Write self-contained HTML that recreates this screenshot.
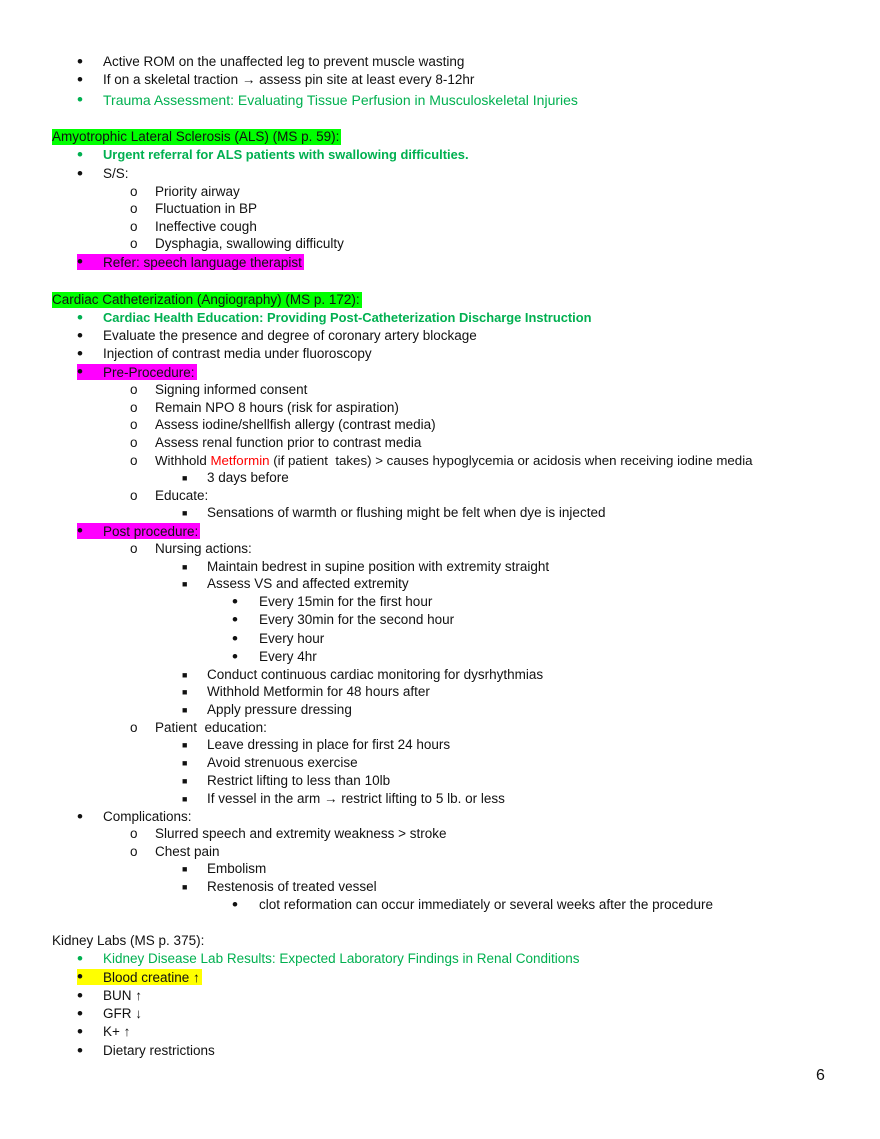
<!DOCTYPE html>
<html><head><meta charset="utf-8"><style>
body{margin:0;background:#fff;}
#p{position:relative;width:880px;height:1139px;font-family:"Liberation Sans","DejaVu Sans",sans-serif;font-size:13.5px;color:#111;}
.l{position:absolute;white-space:nowrap;line-height:16px;height:16px;}
.d{font-size:17px;}
.g{color:#00b050}.gb{color:#00b050;font-weight:bold;font-size:12.9px}
.hg{background:#00ff00}.hm{background:#ff00ff}.hy{background:#ffff00}
.r{color:#ff0000}
.s{font-size:9px}
.hl{position:absolute;white-space:nowrap;line-height:16px;height:16px;padding-right:2px}
.hl .d{display:inline-block;width:26px}
</style></head><body><div id="p">
<div class="l d" style="top:54px;left:77px">•</div><div class="l" style="top:54px;left:103px">Active ROM on the unaffected leg to prevent muscle wasting</div>
<div class="l d" style="top:72px;left:77px">•</div><div class="l" style="top:72px;left:103px">If on a skeletal traction → assess pin site at least every 8-12hr</div>
<div class="l d g" style="top:92px;left:77px">•</div><div class="l g" style="top:92px;left:103px;font-size:14px">Trauma Assessment: Evaluating Tissue Perfusion in Musculoskeletal Injuries</div>

<div class="l hg" style="top:129px;left:52px;padding-right:2px">Amyotrophic Lateral Sclerosis (ALS) (MS p. 59):</div>
<div class="l d g" style="top:147px;left:77px">•</div><div class="l gb" style="top:147px;left:103px">Urgent referral for ALS patients with swallowing difficulties.</div>
<div class="l d" style="top:166px;left:77px">•</div><div class="l" style="top:166px;left:103px">S/S:</div>
<div class="l" style="top:184px;left:130px">o</div><div class="l" style="top:184px;left:155px">Priority airway</div>
<div class="l" style="top:201px;left:130px">o</div><div class="l" style="top:201px;left:155px">Fluctuation in BP</div>
<div class="l" style="top:219px;left:130px">o</div><div class="l" style="top:219px;left:155px">Ineffective cough</div>
<div class="l" style="top:236px;left:130px">o</div><div class="l" style="top:236px;left:155px">Dysphagia, swallowing difficulty</div>
<div class="hl hm" style="top:254px;left:77px"><span class="d">•</span>Refer: speech language therapist</div>

<div class="l hg" style="top:292px;left:52px;padding-right:2px">Cardiac Catheterization (Angiography) (MS p. 172):</div>
<div class="l d g" style="top:310px;left:77px">•</div><div class="l gb" style="top:310px;left:103px">Cardiac Health Education: Providing Post-Catheterization Discharge Instruction</div>
<div class="l d" style="top:328px;left:77px">•</div><div class="l" style="top:328px;left:103px">Evaluate the presence and degree of coronary artery blockage</div>
<div class="l d" style="top:346px;left:77px">•</div><div class="l" style="top:346px;left:103px">Injection of contrast media under fluoroscopy</div>
<div class="hl hm" style="top:364px;left:77px"><span class="d">•</span>Pre-Procedure:</div>
<div class="l" style="top:382px;left:130px">o</div><div class="l" style="top:382px;left:155px">Signing informed consent</div>
<div class="l" style="top:400px;left:130px">o</div><div class="l" style="top:400px;left:155px">Remain NPO 8 hours (risk for aspiration)</div>
<div class="l" style="top:417px;left:130px">o</div><div class="l" style="top:417px;left:155px">Assess iodine/shellfish allergy (contrast media)</div>
<div class="l" style="top:435px;left:130px">o</div><div class="l" style="top:435px;left:155px">Assess renal function prior to contrast media</div>
<div class="l" style="top:453px;left:130px">o</div><div class="l" style="top:453px;left:155px;font-size:13.3px">Withhold <span class="r">Metformin</span> (if patient &nbsp;takes) &gt; causes hypoglycemia or acidosis when receiving iodine media</div>
<div class="l s" style="top:470px;left:182px">■</div><div class="l" style="top:470px;left:207px">3 days before</div>
<div class="l" style="top:488px;left:130px">o</div><div class="l" style="top:488px;left:155px">Educate:</div>
<div class="l s" style="top:505px;left:182px">■</div><div class="l" style="top:505px;left:207px">Sensations of warmth or flushing might be felt when dye is injected</div>
<div class="hl hm" style="top:523px;left:77px"><span class="d">•</span>Post procedure:</div>
<div class="l" style="top:541px;left:130px">o</div><div class="l" style="top:541px;left:155px">Nursing actions:</div>
<div class="l s" style="top:559px;left:182px">■</div><div class="l" style="top:559px;left:207px">Maintain bedrest in supine position with extremity straight</div>
<div class="l s" style="top:576px;left:182px">■</div><div class="l" style="top:576px;left:207px">Assess VS and affected extremity</div>
<div class="l d" style="top:594px;left:232px">•</div><div class="l" style="top:594px;left:259px">Every 15min for the first hour</div>
<div class="l d" style="top:612px;left:232px">•</div><div class="l" style="top:612px;left:259px">Every 30min for the second hour</div>
<div class="l d" style="top:631px;left:232px">•</div><div class="l" style="top:631px;left:259px">Every hour</div>
<div class="l d" style="top:649px;left:232px">•</div><div class="l" style="top:649px;left:259px">Every 4hr</div>
<div class="l s" style="top:667px;left:182px">■</div><div class="l" style="top:667px;left:207px">Conduct continuous cardiac monitoring for dysrhythmias</div>
<div class="l s" style="top:684px;left:182px">■</div><div class="l" style="top:684px;left:207px">Withhold Metformin for 48 hours after</div>
<div class="l s" style="top:702px;left:182px">■</div><div class="l" style="top:702px;left:207px">Apply pressure dressing</div>
<div class="l" style="top:720px;left:130px">o</div><div class="l" style="top:720px;left:155px">Patient &nbsp;education:</div>
<div class="l s" style="top:737px;left:182px">■</div><div class="l" style="top:737px;left:207px">Leave dressing in place for first 24 hours</div>
<div class="l s" style="top:755px;left:182px">■</div><div class="l" style="top:755px;left:207px">Avoid strenuous exercise</div>
<div class="l s" style="top:773px;left:182px">■</div><div class="l" style="top:773px;left:207px">Restrict lifting to less than 10lb</div>
<div class="l s" style="top:791px;left:182px">■</div><div class="l" style="top:791px;left:207px">If vessel in the arm → restrict lifting to 5 lb. or less</div>
<div class="l d" style="top:809px;left:77px">•</div><div class="l" style="top:809px;left:103px">Complications:</div>
<div class="l" style="top:826px;left:130px">o</div><div class="l" style="top:826px;left:155px">Slurred speech and extremity weakness &gt; stroke</div>
<div class="l" style="top:844px;left:130px">o</div><div class="l" style="top:844px;left:155px">Chest pain</div>
<div class="l s" style="top:861px;left:182px">■</div><div class="l" style="top:861px;left:207px">Embolism</div>
<div class="l s" style="top:879px;left:182px">■</div><div class="l" style="top:879px;left:207px">Restenosis of treated vessel</div>
<div class="l d" style="top:897px;left:232px">•</div><div class="l" style="top:897px;left:259px">clot reformation can occur immediately or several weeks after the procedure</div>

<div class="l" style="top:933px;left:52px">Kidney Labs (MS p. 375):</div>
<div class="l d g" style="top:951px;left:77px">•</div><div class="l g" style="top:951px;left:103px">Kidney Disease Lab Results: Expected Laboratory Findings in Renal Conditions</div>
<div class="hl hy" style="top:969px;left:77px"><span class="d">•</span>Blood creatine ↑</div>
<div class="l d" style="top:988px;left:77px">•</div><div class="l" style="top:988px;left:103px">BUN ↑</div>
<div class="l d" style="top:1006px;left:77px">•</div><div class="l" style="top:1006px;left:103px">GFR ↓</div>
<div class="l d" style="top:1024px;left:77px">•</div><div class="l" style="top:1024px;left:103px">K+ ↑</div>
<div class="l d" style="top:1043px;left:77px">•</div><div class="l" style="top:1043px;left:103px">Dietary restrictions</div>
<div class="l" style="top:1068px;left:816px;font-size:16px">6</div>
</div></body></html>
